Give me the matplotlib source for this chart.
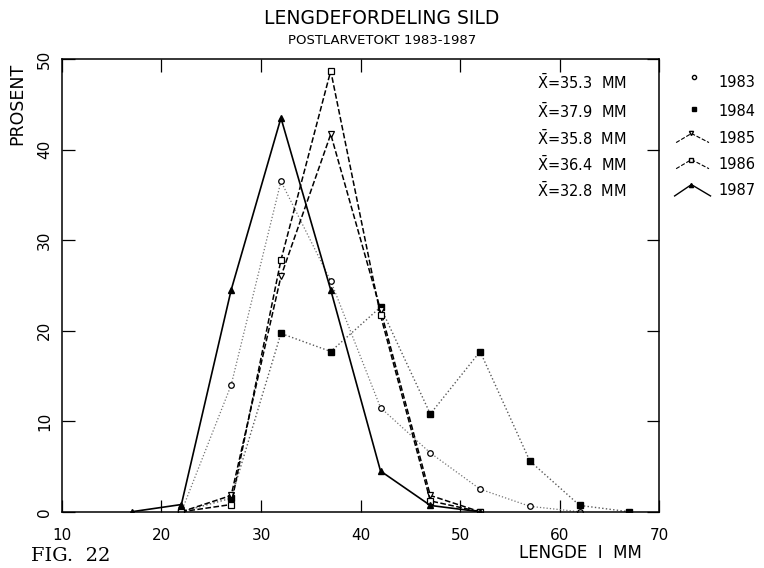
import numpy as np
from matplotlib import pyplot as plt

# lengde (mm) og prosent per år
x83 = [22, 27, 32, 37, 42, 47, 52, 57, 62]
y83 = [0, 14.0, 36.5, 25.5, 11.5, 6.5, 2.5, 0.6, 0]

x84 = [22, 27, 32, 37, 42, 47, 52, 57, 62, 67]
y84 = [0, 1.5, 19.7, 17.7, 22.6, 10.8, 17.7, 5.6, 0.7, 0]

x85 = [22, 27, 32, 37, 42, 47, 52]
y85 = [0, 1.8, 26.0, 41.7, 22.3, 1.8, 0]

x86 = [22, 27, 32, 37, 42, 47, 52]
y86 = [0, 0.8, 27.8, 48.7, 21.7, 1.2, 0]

x87 = [17, 22, 27, 32, 37, 42, 47, 52]
y87 = [0, 0.8, 24.5, 43.5, 24.5, 4.5, 0.7, 0]

years = ['1983', '1984', '1985', '1986', '1987']
means = ['35.3', '37.9', '35.8', '36.4', '32.8']

fig = plt.figure(figsize=(7.64, 5.68), dpi=100)
ax = fig.add_axes([0.081, 0.099, 0.782, 0.797])

ax.plot(x83, y83, color='0.45', ls=':', lw=0.9, marker='o', ms=4,
        mfc='white', mec='black', mew=0.9)
ax.plot(x84, y84, color='0.35', ls=':', lw=1.0, marker='s', ms=4,
        mfc='black', mec='black')
ax.plot(x85, y85, color='black', ls='--', lw=1.1, marker='v', ms=5,
        mfc='white', mec='black', mew=0.9)
ax.plot(x86, y86, color='black', ls='--', lw=1.1, marker='s', ms=4.5,
        mfc='white', mec='black', mew=0.9)
ax.plot(x87, y87, color='black', ls='-', lw=1.2, marker='^', ms=4.5,
        mfc='black', mec='black')

ax.set_xlim(10, 70)
ax.set_ylim(0, 50)
ax.set_xticks(np.arange(10, 71, 10))
ax.set_yticks(np.arange(0, 51, 10))
ax.tick_params(direction='in', length=9, width=0.9, top=True, right=True,
               labelsize=11)
ax.tick_params(axis='x', pad=12)
ax.tick_params(axis='y', pad=7)
for lab in ax.get_yticklabels():
    lab.set_rotation(90)
    lab.set_va('center')
for s in ax.spines.values():
    s.set_linewidth(1.1)

ax.set_ylabel('PROSENT', fontsize=12.5, labelpad=8, y=0.9)
fig.text(0.76, 0.018, 'LENGDE  I  MM', fontsize=12, ha='center')

fig.text(0.5, 0.958, 'LENGDEFORDELING SILD', fontsize=13.5, ha='center')
fig.text(0.5, 0.922, 'POSTLARVETOKT 1983-1987', fontsize=9.5, ha='center')
fig.text(0.04, 0.006, 'FIG.  22', fontsize=14, family='DejaVu Serif',
         va='bottom')

# forklaring
ypos = [0.854, 0.803, 0.757, 0.711, 0.665]
for i in range(5):
    fig.text(0.703, ypos[i], r'$\bar{\mathrm{X}}$=' + means[i] + '  MM',
             fontsize=10.5, va='center')
    fig.text(0.94, ypos[i], years[i], fontsize=10.5, va='center')

fig.lines.append(plt.Line2D([0.908], [ypos[0] + 0.01], marker='o', ms=3,
                            mfc='white', mec='black', transform=fig.transFigure))
fig.lines.append(plt.Line2D([0.908], [ypos[1] + 0.005], marker='s', ms=3,
                            mfc='black', mec='black', transform=fig.transFigure))
fig.lines.append(plt.Line2D([0.885, 0.905, 0.928], [ypos[2] - 0.008, ypos[2] + 0.008, ypos[2] - 0.008],
                            ls='--', lw=0.8, color='black', transform=fig.transFigure))
fig.lines.append(plt.Line2D([0.905], [ypos[2] + 0.008], marker='v', ms=3, mfc='white',
                            mec='black', transform=fig.transFigure))
fig.lines.append(plt.Line2D([0.885, 0.905, 0.928], [ypos[3] - 0.008, ypos[3] + 0.008, ypos[3] - 0.008],
                            ls='--', lw=0.8, color='black', transform=fig.transFigure))
fig.lines.append(plt.Line2D([0.905], [ypos[3] + 0.008], marker='s', ms=3, mfc='white',
                            mec='black', transform=fig.transFigure))
fig.lines.append(plt.Line2D([0.883, 0.905, 0.93], [ypos[4] - 0.01, ypos[4] + 0.01, ypos[4] - 0.01],
                            ls='-', lw=1.0, color='black', transform=fig.transFigure))
fig.lines.append(plt.Line2D([0.905], [ypos[4] + 0.01], marker='^', ms=3, mfc='black',
                            mec='black', transform=fig.transFigure))

fig.savefig('out.png', dpi=100)
